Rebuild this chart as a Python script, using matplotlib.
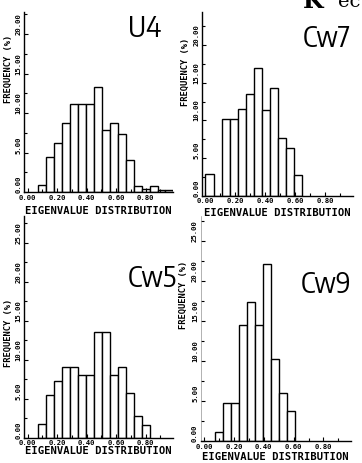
import matplotlib.pyplot as plt
from matplotlib.ticker import MultipleLocator

# eigenvalue histograms, frequency (%) per bin, left to right
u4_freq = [0.9, 4.4, 6.2, 8.8, 11.2, 11.2, 11.2, 13.3, 7.8, 8.7, 7.4, 4.0, 0.8, 0.4, 0.8, 0.3, 0.3]
cw7_freq = [2.9, 0.0, 10.2, 10.2, 11.5, 13.5, 17.0, 11.4, 14.3, 7.7, 6.4, 2.8]
cw5_freq = [1.8, 5.5, 7.2, 9.0, 9.0, 8.0, 8.0, 13.5, 13.5, 8.0, 9.0, 5.7, 2.8, 1.6]
cw9_freq = [1.1, 4.7, 4.7, 14.5, 17.4, 14.5, 22.1, 10.2, 6.0, 3.8]

# left edge of the first bin of each histogram, and the bin width
first_edge = {"U4": 0.07, "Cw7": 0.0, "Cw5": 0.07, "Cw9": 0.07}
bin_width = 0.054

x_ticks = [0.0, 0.2, 0.4, 0.6, 0.8]
x_ticklabels = ["0.00", "0.20", "0.40", "0.60", "0.80"]

W, H = 362, 464
fig = plt.figure(figsize=(W / 100, H / 100), dpi=100)
fig.patch.set_facecolor("white")

MONO = "DejaVu Sans Mono"
NARROW = ["Encode Sans Condensed", "Archivo Narrow", "DejaVu Sans"]


def rect(left, top, right, bottom):
    return [left / W, 1 - bottom / H, (right - left) / W, (bottom - top) / H]


# (name, data, axes box in pixels, y top, label pos, ylabel pos, xlabel y)
panels = [
    ("U4", u4_freq, (24, 13, 173, 193), 22.8, (128, 37), (8, 69), 211),
    ("Cw7", cw7_freq, (201.7, 13, 352.7, 196.7), 24.4, (303, 47), (185, 72), 213.5),
    ("Cw5", cw5_freq, (24, 217, 173, 438.7), 28.4, (128, 287), (8, 333), 451),
    ("Cw9", cw9_freq, (200.5, 217, 351, 442), 28.1, (301, 293), (183, 295), 457),
]

for name, freq, box, ytop, lab, ylab, xlab_y in panels:
    ax = fig.add_axes(rect(*box))
    edges = [first_edge[name] + i * bin_width for i in range(len(freq))]
    ax.bar(edges, freq, width=bin_width, align="edge", color="white",
           edgecolor="black", linewidth=1.0)

    ax.set_xlim(-0.025, 0.985)
    ax.set_ylim(0, ytop)
    for side in ("top", "right"):
        ax.spines[side].set_visible(False)
    for side in ("left", "bottom"):
        ax.spines[side].set_linewidth(1.0)
    if name == "Cw9":
        ax.spines["left"].set_linewidth(0.4)
        ax.spines["left"].set_color("#777777")

    ax.set_xticks(x_ticks, labels=x_ticklabels, fontsize=5.2,
                  fontfamily=MONO, fontweight="bold")
    ax.xaxis.set_minor_locator(MultipleLocator(0.1))
    yt = [v for v in range(0, 30, 5) if v <= ytop]
    ax.set_yticks(yt, labels=[f"{v:.2f}" for v in yt], fontsize=5.2,
                  fontfamily=MONO, fontweight="bold", rotation=90, va="bottom")
    ax.yaxis.set_minor_locator(MultipleLocator(2.5))
    ax.tick_params(which="both", direction="in", width=0.8)
    ax.tick_params(which="major", length=3)
    ax.tick_params(which="minor", length=2)
    ax.tick_params(axis="x", pad=1.2)
    ax.tick_params(axis="y", pad=1.8)

    x0, _, x1, _ = box
    fig.text((x0 + x1) / 2 / W, 1 - xlab_y / H, "EIGENVALUE DISTRIBUTION",
             ha="center", va="center", fontsize=7.6, fontfamily=MONO,
             fontweight="bold")
    fig.text(ylab[0] / W, 1 - ylab[1] / H, "FREQUENCY (%)", rotation=90,
             ha="center", va="center", fontsize=6.3, fontfamily=MONO,
             fontweight="bold")
    fig.text(lab[0] / W, 1 - lab[1] / H, name, ha="left", va="baseline",
             fontsize=21, family=NARROW, fontweight="normal")

# running header of the page, cut by the top edge
fig.text(303 / W, 1 - 8 / H, "K", ha="left", va="baseline", fontsize=17,
         family="DejaVu Serif", fontweight="bold")
fig.text(338 / W, 1 - 7 / H, "ec", ha="left", va="baseline", fontsize=14,
         family="DejaVu Serif")

fig.savefig("out.png", dpi=100)
